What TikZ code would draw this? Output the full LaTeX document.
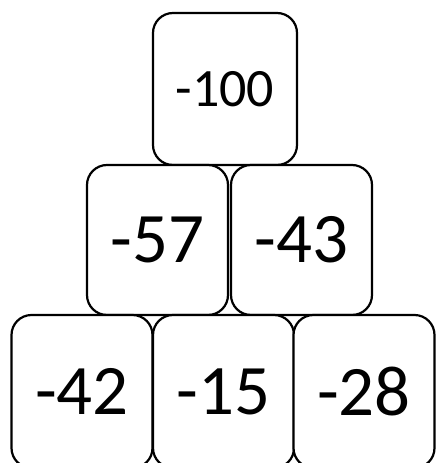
\documentclass[tikz,border=0pt]{standalone}
\usepackage{fontspec}
\setmainfont{Carlito}
\begin{document}
\begin{tikzpicture}[x=1pt,y=-1pt,
  brick/.style={draw=black, line width=2.2pt, rounded corners=20pt, fill=white,
    minimum width=141pt, minimum height=150pt, inner sep=0pt, font=\fontsize{71}{78}\selectfont},
  topbrick/.style={brick, minimum width=144pt, minimum height=152pt, font=\fontsize{54}{60}\selectfont}]
\useasboundingbox (0,0) rectangle (436,463);
\clip (0,0) rectangle (436,463);
\node[topbrick] (t) at (225,89) {-100};
\node[brick] (ml) at (157.5,240) {-57};
\node[brick] (mr) at (301.5,240) {-43};
\node[brick, minimum height=153pt] (bl) at (82,391.5) {-42};
\node[brick, minimum height=153pt] (bm) at (223.5,391.5) {-15};
\node[brick, minimum height=153pt] (br) at (364,391.5) {-28};
\end{tikzpicture}
\end{document}
